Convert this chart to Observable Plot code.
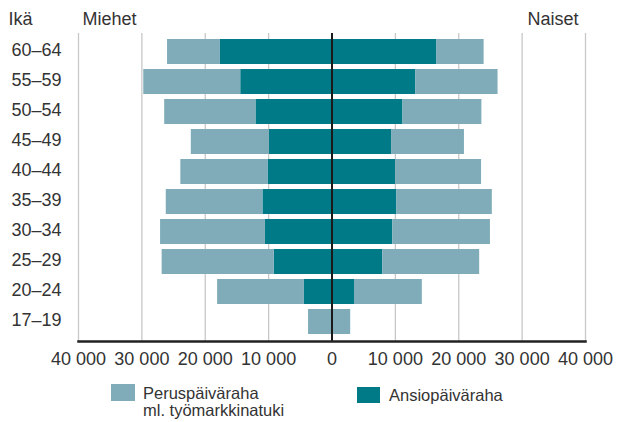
<!DOCTYPE html>
<html>
<head>
<meta charset="utf-8">
<script src="https://cdn.jsdelivr.net/npm/d3@7"></script>
<script src="https://cdn.jsdelivr.net/npm/@observablehq/plot@0.6"></script>
<style>
  html, body { margin: 0; padding: 0; background: #fff; }
  #wrap { position: relative; width: 629px; height: 422px; font-family: "Liberation Sans", Arial, sans-serif; color: #333; }
  .sw { position: absolute; }
  .lt { position: absolute; font-size: 16.5px; line-height: 17px; white-space: nowrap; color: #333; }
</style>
</head>
<body>
<div id="wrap"></div>
<script>
// ---- data ----
const ages = ["60–64","55–59","50–54","45–49","40–44","35–39","30–34","25–29","20–24","17–19"];
const types = ["Peruspäiväraha ml. työmarkkinatuki", "Ansiopäiväraha"];
const typeColors = ["#7facb8", "#007a87"];
const menAnsio   = [17600, 14400, 12000,  9900, 10100, 10900, 10500,  9100,  4350,    0];
const menPerus   = [ 8350, 15300, 14400, 12300, 13750, 15250, 16550, 17700, 13700, 3700];
const womenAnsio = [16500, 13200, 11200,  9400, 10050, 10200,  9600,  8000,  3550,    0];
const womenPerus = [ 7500, 13000, 12450, 11500, 13550, 15100, 15400, 15300, 10700, 2950];
const xTicks = [-40000, -30000, -20000, -10000, 0, 10000, 20000, 30000, 40000];
const headerLabels = ["Ikä", "Miehet", "Naiset"];
const legendLines = [["Peruspäiväraha", "ml. työmarkkinatuki"], ["Ansiopäiväraha"]];

// ---- table ----
const rows = [];
ages.forEach((age, i) => {
  rows.push({age, sex: "Miehet", type: types[1], value: -menAnsio[i]});
  rows.push({age, sex: "Miehet", type: types[0], value: -menPerus[i]});
  rows.push({age, sex: "Naiset", type: types[1], value: womenAnsio[i]});
  rows.push({age, sex: "Naiset", type: types[0], value: womenPerus[i]});
});

const fmt = d => d3.format(",")(Math.abs(d)).replace(/,/g, " ");

const chart = Plot.plot({
  width: 629,
  height: 422,
  marginLeft: 78,
  marginRight: 44,
  marginTop: 33,
  marginBottom: 81,
  style: {fontFamily: "'Liberation Sans', Arial, sans-serif", fontSize: "18px", color: "#333", background: "white"},
  x: {domain: [-40000, 40000], label: null},
  y: {domain: ages, paddingInner: 0.166, paddingOuter: 0.083, label: null},
  color: {domain: types, range: typeColors},
  marks: [
    Plot.gridX(xTicks, {stroke: "#c8c8c8", strokeOpacity: 1, strokeWidth: 1.3}),
    Plot.barX(rows, {x: "value", y: "age", fill: "type"}),
    Plot.ruleX([0], {stroke: "#1a1a1a", strokeWidth: 2}),
    Plot.frame({anchor: "bottom", stroke: "#222", strokeWidth: 2.5}),
    Plot.axisX(xTicks, {tickSize: 0, tickPadding: 11, tickFormat: fmt, fontSize: 18, label: null}),
    Plot.axisY({tickSize: 0, tickPadding: 17, fontSize: 18, label: null, dy: -2}),
    Plot.text([headerLabels[0]], {text: d => d, frameAnchor: "top-left", textAnchor: "start", lineAnchor: "bottom", dx: -70, dy: -9, fontSize: 18}),
    Plot.text([headerLabels[1]], {text: d => d, frameAnchor: "top-left", textAnchor: "start", lineAnchor: "bottom", dx: 4, dy: -9, fontSize: 18}),
    Plot.text([headerLabels[2]], {text: d => d, frameAnchor: "top-right", textAnchor: "end", lineAnchor: "bottom", dx: -7, dy: -9, fontSize: 18})
  ]
});

const wrap = document.getElementById("wrap");
wrap.appendChild(chart);

// ---- legend ----
const legendPos = [
  {sx: 111, sy: 384, sw: 24, sh: 17, tx: 143, ty: 385},
  {sx: 357, sy: 387, sw: 23, sh: 16, tx: 389, ty: 387}
];
legendPos.forEach((p, i) => {
  const s = document.createElement("div");
  s.className = "sw";
  s.style.cssText = `left:${p.sx}px;top:${p.sy}px;width:${p.sw}px;height:${p.sh}px;background:${typeColors[i]}`;
  wrap.appendChild(s);
  const t = document.createElement("div");
  t.className = "lt";
  t.style.left = p.tx + "px";
  t.style.top = p.ty + "px";
  t.innerHTML = legendLines[i].join("<br>");
  wrap.appendChild(t);
});
</script>
</body>
</html>
